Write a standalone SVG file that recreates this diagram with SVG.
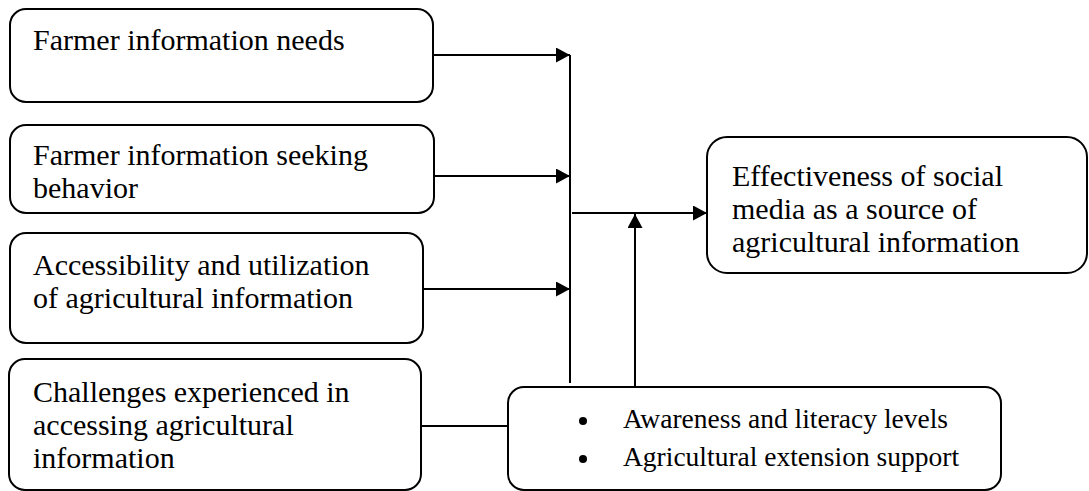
<svg xmlns="http://www.w3.org/2000/svg" width="1089" height="491" viewBox="0 0 1089 491">
<style>
.box{fill:#fff;stroke:#000;stroke-width:2}
.t{font-family:"Liberation Serif","Times New Roman",serif;font-size:30px;fill:#000}
.s{font-size:27.5px}
.c{stroke:#000;stroke-width:2;fill:none}
</style>
<defs>
<marker id="ah" markerUnits="userSpaceOnUse" markerWidth="15" markerHeight="15" refX="14" refY="7.5" orient="auto">
<path d="M0,0 L14,7.5 L0,15 z" fill="#000"/>
</marker>
</defs>
<rect width="1089" height="491" fill="#fff"/>
<g id="connectors">
<line class="c" x1="433" y1="55" x2="570" y2="55" marker-end="url(#ah)"/>
<line class="c" x1="434" y1="176" x2="570" y2="176" marker-end="url(#ah)"/>
<line class="c" x1="423" y1="289" x2="570" y2="289" marker-end="url(#ah)"/>
<line class="c" x1="570" y1="55" x2="570" y2="383"/>
<line class="c" x1="572" y1="213" x2="707" y2="213" marker-end="url(#ah)"/>
<line class="c" x1="635" y1="387" x2="635" y2="214" marker-end="url(#ah)"/>
<line class="c" x1="421" y1="426" x2="508" y2="426"/>
</g>
<g id="n1">
<rect class="box" x="10" y="9" width="423" height="93" rx="16"/>
<text class="t" x="33" y="50">Farmer information needs</text>
</g>
<g id="n2">
<rect class="box" x="10" y="125" width="424" height="88" rx="16"/>
<text class="t" x="33" y="165">Farmer information seeking</text>
<text class="t" x="33" y="198">behavior</text>
</g>
<g id="n3">
<rect class="box" x="10" y="233" width="413" height="110" rx="16"/>
<text class="t" x="33" y="275">Accessibility and utilization</text>
<text class="t" x="33" y="308">of agricultural information</text>
</g>
<g id="n4">
<rect class="box" x="9" y="359" width="412" height="131" rx="16"/>
<text class="t" x="33" y="402">Challenges experienced in</text>
<text class="t" x="33" y="435">accessing agricultural</text>
<text class="t" x="33" y="468">information</text>
</g>
<g id="n5">
<rect class="box" x="707" y="137" width="380" height="136" rx="20"/>
<text class="t" x="732" y="186">Effectiveness of social</text>
<text class="t" x="732" y="219">media as a source of</text>
<text class="t" x="732" y="252">agricultural information</text>
</g>
<g id="n6">
<rect class="box" x="508" y="387" width="493" height="103" rx="16"/>
<circle cx="583" cy="421" r="4"/>
<circle cx="583" cy="459" r="4"/>
<text class="t s" x="623" y="428">Awareness and literacy levels</text>
<text class="t s" x="623" y="466">Agricultural extension support</text>
</g>
</svg>
